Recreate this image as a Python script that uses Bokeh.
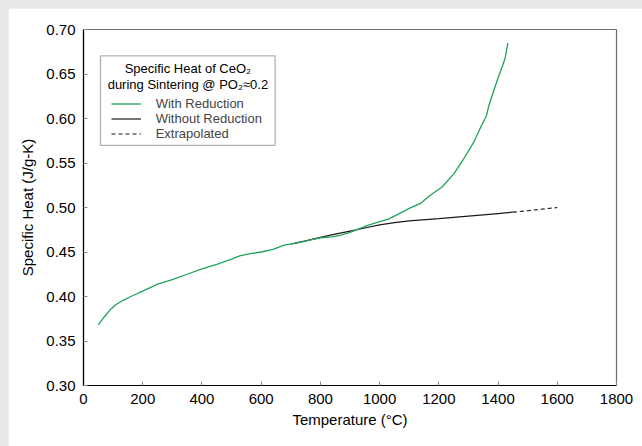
from bokeh.plotting import figure
from bokeh.models import (Range1d, Legend, LegendItem, Label, BoxAnnotation,
                          FixedTicker, NumeralTickFormatter)
from bokeh.layouts import column
from bokeh.embed import file_html
from bokeh.resources import INLINE

# Specific heat of CeO2 during sintering (J/g-K) vs temperature (deg C)
temp_with_reduction = [50, 70, 90, 110, 130, 160, 200, 250, 300, 350, 400, 450,
                       500, 530, 560, 600, 640, 680, 720, 760, 800, 840, 870,
                       900, 930, 960, 1000, 1030, 1060, 1100, 1140, 1170, 1211,
                       1251, 1284, 1318, 1341, 1361, 1369, 1397, 1417, 1424, 1433]
cp_with_reduction = [0.368, 0.377, 0.385, 0.391, 0.395, 0.400, 0.406, 0.414,
                     0.419, 0.425, 0.431, 0.436, 0.442, 0.446, 0.448, 0.450,
                     0.453, 0.458, 0.460, 0.463, 0.466, 0.467, 0.469, 0.472,
                     0.476, 0.480, 0.484, 0.487, 0.492, 0.499, 0.505, 0.5135,
                     0.523, 0.538, 0.5547, 0.5734, 0.590, 0.6034, 0.6146,
                     0.6427, 0.661, 0.668, 0.6846]

temp_without_reduction = [700, 750, 800, 850, 900, 950, 1000, 1050, 1100, 1200,
                          1300, 1400, 1450]
cp_without_reduction = [0.459, 0.4625, 0.4665, 0.470, 0.4735, 0.477, 0.4805,
                        0.483, 0.485, 0.4875, 0.4903, 0.4932, 0.4947]

temp_extrapolated = [1450, 1600]
cp_extrapolated = [0.4947, 0.500]

x_ticks = [0, 200, 400, 600, 800, 1000, 1200, 1400, 1600, 1800]
y_ticks = [0.30, 0.35, 0.40, 0.45, 0.50, 0.55, 0.60, 0.65, 0.70]

legend_title = ["Specific Heat of CeO\u2082", "during Sintering @ PO\u2082\u22480.2"]
series_labels = ["With Reduction", "Without Reduction", "Extrapolated"]

FONT = "Liberation Sans"
GREEN = "#22a35a"
DARK = "#1a1a1a"

p = figure(width=634, height=438, output_backend="svg", toolbar_location=None,
           x_range=Range1d(0, 1800), y_range=Range1d(0.30, 0.70),
           min_border_left=75, min_border_right=26, min_border_top=21,
           min_border_bottom=61, background_fill_color="white",
           border_fill_color="white")
p.margin = (8, 0, 0, 8)
p.outline_line_color = "#6e6e6e"
p.outline_line_width = 1.2
p.grid.visible = False

for ax in (p.xaxis, p.yaxis):
    ax.major_tick_in = 4
    ax.major_tick_out = 0
    ax.minor_tick_line_color = None
    ax.major_tick_line_color = "#8a8a8a"
    ax.axis_line_color = "black"
    ax.axis_line_width = 1.2
    ax.major_label_text_font = FONT
    ax.major_label_text_font_size = "15px"
    ax.major_label_text_color = "black"
    ax.axis_label_text_font = FONT
    ax.axis_label_text_font_size = "15px"
    ax.axis_label_text_font_style = "normal"
    ax.axis_label_text_color = "black"
    ax.major_label_standoff = 8

p.xaxis.ticker = FixedTicker(ticks=x_ticks)
p.yaxis.ticker = FixedTicker(ticks=y_ticks)
p.yaxis.formatter = NumeralTickFormatter(format="0.00")
p.xaxis.axis_label = "Temperature (\u00b0C)"
p.yaxis.axis_label = "Specific Heat (J/g-K)"
p.xaxis.axis_label_standoff = 4
p.yaxis.axis_label_standoff = 7

# legend frame with white fill
p.add_layout(BoxAnnotation(left=57.4, right=647, bottom=0.5697, top=0.6704,
                           fill_color="white", fill_alpha=1.0,
                           line_color="black", line_width=1.3,
                           level="underlay"))

r_dark = p.line(temp_without_reduction, cp_without_reduction,
                line_color=DARK, line_width=1.2)
r_dash = p.line(temp_extrapolated, cp_extrapolated, line_color=DARK,
                line_width=1.2, line_dash="4 3")
r_green = p.line(temp_with_reduction, cp_with_reduction, line_color=GREEN,
                 line_width=1.3)

for text, yv in zip(legend_title, [0.6565, 0.6379]):
    p.add_layout(Label(x=352.6, y=yv, text=text, text_align="center",
                       text_baseline="middle", text_font=FONT,
                       text_font_size="13px", text_color="black"))

legend = Legend(items=[LegendItem(label=series_labels[0], renderers=[r_green]),
                       LegendItem(label=series_labels[1], renderers=[r_dark]),
                       LegendItem(label=series_labels[2], renderers=[r_dash])],
                location=(27.7, 244), padding=0, margin=0, spacing=0,
                glyph_width=30, glyph_height=15, label_height=15,
                label_standoff=15, label_text_font=FONT,
                label_text_font_size="13px", border_line_alpha=0,
                background_fill_alpha=0)
p.add_layout(legend)

page = column(p, width=642, height=446,
              styles={"background-color": "#e8e8e8"})

open("out.html", "w").write(file_html(page, INLINE))
